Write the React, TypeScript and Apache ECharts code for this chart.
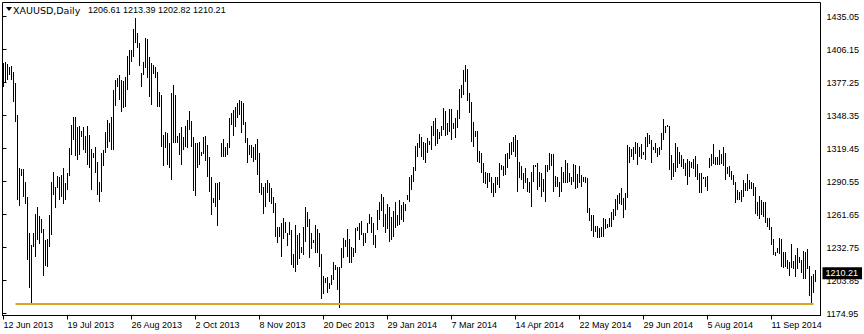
import React, { useEffect, useRef } from 'react';
import * as echarts from 'echarts';

const symbolTitle = 'XAUUSD,Daily';
const lastOHLC = [1206.61, 1213.39, 1202.82, 1210.21];
const xTickLabels = ['12 Jun 2013', '19 Jul 2013', '26 Aug 2013', '2 Oct 2013', '8 Nov 2013', '20 Dec 2013', '29 Jan 2014', '7 Mar 2014', '14 Apr 2014', '22 May 2014', '29 Jun 2014', '5 Aug 2014', '11 Sep 2014'];
const yTickLabels = ['1174.95', '1203.85', '1232.75', '1261.65', '1290.55', '1319.45', '1348.35', '1377.25', '1406.15', '1435.05'];
const supportLevel = 1183.3;

const highs = [
  1394.3, 1395.2, 1393.5, 1390.8, 1391.7, 1386.4, 1376.8, 1348.8, 1302.4, 1301.5,
  1301.5, 1290.1, 1277.0, 1245.4, 1234.9, 1245.4, 1262.1, 1268.2, 1260.3, 1257.7,
  1248.9, 1239.3, 1240.2, 1261.2, 1290.1, 1298.9, 1285.7, 1295.4, 1294.5, 1296.3,
  1302.4, 1289.2, 1298.0, 1319.9, 1340.0, 1347.0, 1347.0, 1338.3, 1339.2, 1334.8,
  1338.3, 1330.4, 1339.2, 1331.3, 1319.0, 1315.5, 1320.8, 1307.6, 1290.1, 1315.5,
  1318.1, 1333.9, 1344.4, 1341.8, 1347.0, 1370.7, 1379.4, 1381.2, 1383.8, 1379.4,
  1378.6, 1382.1, 1400.5, 1405.7, 1405.7, 1424.1, 1433.7, 1420.6, 1411.8, 1385.6,
  1395.2, 1416.2, 1415.3, 1399.6, 1394.3, 1392.6, 1390.8, 1386.4, 1368.9, 1366.3,
  1331.3, 1333.9, 1333.0, 1324.3, 1368.1, 1375.1, 1366.3, 1330.4, 1333.0, 1338.3,
  1329.5, 1339.2, 1344.4, 1352.3, 1343.5, 1329.5, 1324.3, 1324.3, 1325.1, 1316.4,
  1329.5, 1330.4, 1322.5, 1312.0, 1294.5, 1276.1, 1289.2, 1289.2, 1290.1, 1324.3,
  1327.8, 1320.8, 1324.3, 1346.2, 1350.5, 1353.2, 1355.8, 1359.3, 1361.9, 1361.0,
  1359.3, 1342.7, 1328.6, 1322.5, 1322.5, 1320.8, 1323.4, 1327.8, 1315.5, 1289.2,
  1285.7, 1289.2, 1291.9, 1289.2, 1284.9, 1277.0, 1271.7, 1250.7, 1250.7, 1254.2,
  1258.6, 1255.1, 1245.4, 1255.1, 1248.1, 1227.1, 1252.5, 1243.7, 1245.4, 1233.2,
  1250.7, 1268.2, 1263.8, 1257.7, 1245.4, 1239.3, 1252.5, 1248.9, 1245.4, 1227.1,
  1207.8, 1206.0, 1206.9, 1201.7, 1208.7, 1220.1, 1217.4, 1215.7, 1215.7, 1232.3,
  1241.1, 1239.3, 1248.9, 1240.2, 1233.2, 1232.3, 1249.8, 1250.7, 1254.2, 1256.0,
  1245.4, 1245.4, 1254.2, 1262.1, 1259.5, 1254.2, 1243.7, 1265.6, 1272.6, 1279.6,
  1277.0, 1262.1, 1270.8, 1268.2, 1259.5, 1264.7, 1272.6, 1261.2, 1274.3, 1270.0,
  1272.6, 1270.8, 1278.7, 1294.5, 1296.3, 1303.3, 1321.6, 1324.3, 1332.1, 1329.5,
  1325.1, 1324.3, 1328.6, 1326.0, 1339.2, 1343.5, 1346.2, 1336.5, 1333.9, 1339.2,
  1354.9, 1352.3, 1341.8, 1354.0, 1354.0, 1341.8, 1346.2, 1353.2, 1371.6, 1375.1,
  1388.2, 1392.6, 1389.1, 1368.1, 1360.2, 1342.7, 1334.8, 1334.8, 1317.3, 1315.5,
  1306.8, 1298.9, 1298.0, 1298.0, 1294.5, 1289.2, 1294.5, 1294.5, 1306.8, 1305.0,
  1304.1, 1314.6, 1315.5, 1324.3, 1325.1, 1329.5, 1331.3, 1326.9, 1307.6, 1304.1,
  1298.0, 1302.4, 1293.6, 1290.1, 1298.9, 1305.0, 1305.0, 1306.8, 1298.9, 1298.0,
  1292.7, 1305.0, 1305.0, 1315.5, 1314.6, 1314.6, 1295.4, 1294.5, 1290.1, 1303.3,
  1298.9, 1309.4, 1306.8, 1298.0, 1294.5, 1305.9, 1305.0, 1297.1, 1304.1, 1296.3,
  1294.5, 1294.5, 1293.6, 1267.3, 1261.2, 1261.2, 1251.6, 1251.6, 1249.8, 1250.7,
  1258.6, 1257.7, 1253.3, 1258.6, 1263.8, 1266.5, 1275.2, 1278.7, 1280.5, 1284.9,
  1276.1, 1280.5, 1322.5, 1320.8, 1319.0, 1320.8, 1325.1, 1324.3, 1320.8, 1323.4,
  1316.4, 1329.5, 1333.0, 1331.3, 1326.9, 1320.8, 1324.3, 1319.9, 1320.8, 1333.0,
  1345.3, 1339.2, 1340.0, 1339.2, 1313.8, 1306.8, 1324.3, 1320.8, 1316.4, 1313.8,
  1310.3, 1306.8, 1310.3, 1308.5, 1307.6, 1310.3, 1312.9, 1305.9, 1298.0, 1298.0,
  1294.5, 1294.5, 1295.4, 1311.1, 1314.6, 1323.4, 1312.0, 1312.0, 1318.1, 1314.6,
  1320.8, 1315.5, 1303.3, 1304.1, 1299.8, 1296.3, 1290.1, 1283.1, 1281.4, 1283.1,
  1291.9, 1289.2, 1297.1, 1291.9, 1290.1, 1289.2, 1285.7, 1272.6, 1277.9, 1274.3,
  1272.6, 1272.6, 1258.6, 1258.6, 1250.7, 1240.2, 1228.8, 1232.3, 1241.1, 1240.2,
  1228.8, 1228.8, 1221.8, 1220.1, 1235.8, 1220.9, 1226.2, 1232.3, 1224.4, 1221.8,
  1229.7, 1228.8, 1231.4, 1216.6, 1207.8, 1209.5, 1213.39,
];

const lows = [
  1373.3, 1377.7, 1379.4, 1383.8, 1379.4, 1360.2, 1342.7, 1274.3, 1269.1, 1295.4,
  1277.0, 1270.8, 1221.8, 1197.3, 1183.3, 1233.2, 1224.4, 1239.3, 1235.8, 1245.4,
  1207.8, 1216.6, 1215.7, 1233.2, 1243.7, 1278.7, 1267.3, 1284.9, 1274.3, 1277.0,
  1270.8, 1274.3, 1283.1, 1295.4, 1313.8, 1326.9, 1312.9, 1309.4, 1313.8, 1329.5,
  1318.1, 1315.5, 1305.0, 1302.4, 1283.1, 1311.1, 1298.0, 1278.7, 1272.6, 1281.4,
  1304.1, 1315.5, 1319.9, 1325.1, 1318.1, 1318.1, 1356.7, 1373.3, 1361.9, 1351.4,
  1354.9, 1355.8, 1370.7, 1383.8, 1395.2, 1399.6, 1411.8, 1407.5, 1391.7, 1373.3,
  1383.8, 1390.0, 1381.2, 1364.6, 1357.5, 1384.7, 1381.2, 1355.8, 1355.8, 1320.8,
  1304.1, 1319.9, 1305.0, 1302.4, 1291.9, 1324.3, 1324.3, 1324.3, 1313.8, 1305.0,
  1318.1, 1320.8, 1319.9, 1335.7, 1320.8, 1282.2, 1277.9, 1302.4, 1305.0, 1312.9,
  1314.6, 1308.5, 1294.5, 1281.4, 1261.2, 1271.7, 1268.2, 1251.6, 1274.3, 1312.0,
  1312.0, 1312.0, 1313.8, 1319.9, 1340.0, 1330.4, 1338.3, 1346.2, 1348.8, 1333.0,
  1340.0, 1324.3, 1306.8, 1313.8, 1311.1, 1307.6, 1309.4, 1296.3, 1280.5, 1278.7,
  1262.1, 1268.2, 1280.5, 1272.6, 1270.8, 1263.0, 1241.9, 1236.7, 1241.9, 1224.4,
  1240.2, 1245.4, 1234.1, 1243.7, 1217.4, 1214.8, 1211.3, 1217.4, 1222.7, 1227.9,
  1226.2, 1237.6, 1250.7, 1223.6, 1231.4, 1236.7, 1227.9, 1227.9, 1215.7, 1187.7,
  1192.0, 1201.7, 1192.9, 1196.4, 1199.9, 1204.3, 1213.0, 1195.5, 1179.8, 1214.8,
  1223.6, 1233.2, 1224.4, 1219.2, 1219.2, 1224.4, 1227.9, 1247.2, 1239.3, 1243.7,
  1234.1, 1236.7, 1245.4, 1253.3, 1245.4, 1234.9, 1232.3, 1248.1, 1256.8, 1264.7,
  1250.7, 1245.4, 1248.9, 1237.6, 1239.3, 1241.9, 1249.8, 1251.6, 1252.5, 1256.8,
  1255.1, 1264.7, 1274.3, 1272.6, 1283.1, 1290.1, 1299.8, 1312.0, 1319.9, 1312.0,
  1309.4, 1306.8, 1315.5, 1322.5, 1318.1, 1330.4, 1321.6, 1323.4, 1327.8, 1330.4,
  1335.7, 1330.4, 1331.3, 1333.9, 1326.9, 1336.5, 1328.6, 1337.4, 1345.3, 1363.7,
  1366.3, 1377.7, 1361.0, 1350.5, 1325.1, 1320.8, 1329.5, 1307.6, 1306.8, 1298.0,
  1289.2, 1288.4, 1284.9, 1290.1, 1280.5, 1277.0, 1280.5, 1287.5, 1284.9, 1300.6,
  1295.4, 1296.3, 1302.4, 1310.3, 1313.8, 1316.4, 1312.0, 1281.4, 1293.6, 1291.9,
  1284.0, 1289.2, 1281.4, 1280.5, 1268.2, 1290.1, 1303.3, 1283.1, 1285.7, 1277.0,
  1281.4, 1272.6, 1298.9, 1300.6, 1304.1, 1281.4, 1285.7, 1285.7, 1277.0, 1281.4,
  1289.2, 1289.2, 1289.2, 1290.1, 1287.5, 1290.1, 1284.0, 1284.9, 1289.2, 1285.7,
  1290.1, 1289.2, 1263.0, 1256.0, 1247.2, 1241.9, 1246.3, 1241.1, 1241.1, 1241.9,
  1241.9, 1248.9, 1249.8, 1250.7, 1250.7, 1256.8, 1260.3, 1265.6, 1270.8, 1270.0,
  1258.6, 1265.6, 1276.1, 1306.8, 1312.0, 1309.4, 1314.6, 1305.0, 1312.0, 1310.3,
  1313.8, 1309.4, 1320.8, 1323.4, 1306.8, 1318.1, 1315.5, 1312.0, 1313.8, 1318.1,
  1326.9, 1333.0, 1338.3, 1300.6, 1291.9, 1294.5, 1298.9, 1302.4, 1305.9, 1303.3,
  1301.5, 1295.4, 1287.5, 1294.5, 1302.4, 1301.5, 1294.5, 1291.9, 1280.5, 1280.5,
  1293.6, 1285.7, 1282.2, 1302.4, 1304.1, 1305.9, 1305.0, 1305.0, 1305.0, 1305.9,
  1304.1, 1291.9, 1297.1, 1294.5, 1291.9, 1287.5, 1271.7, 1274.3, 1274.3, 1272.6,
  1277.0, 1282.2, 1282.2, 1284.0, 1284.0, 1277.9, 1262.1, 1260.3, 1257.7, 1261.2,
  1259.5, 1254.2, 1250.7, 1248.1, 1234.9, 1226.2, 1225.3, 1227.9, 1227.1, 1215.7,
  1214.8, 1215.7, 1213.9, 1207.8, 1214.8, 1213.9, 1206.9, 1213.9, 1219.2, 1210.4,
  1205.2, 1205.2, 1213.9, 1190.3, 1183.3, 1192.9, 1202.82,
];

export default function App() {
  const ref = useRef<HTMLDivElement>(null);

  useEffect(() => {
    if (!ref.current) return;
    const chart = echarts.init(ref.current, null, { renderer: 'svg' });
    const padBars = 2;
    const n = highs.length + padBars;
    const categories = Array.from({ length: n }, (_, i) =>
      i % 32 === 0 && i / 32 < xTickLabels.length ? xTickLabels[i / 32] : 'bar' + i
    );
    const bars = highs.map((h, i) => [i, h, lows[i]]);
    const font = '"Liberation Sans", Arial, sans-serif';

    chart.setOption({
      animation: false,
      backgroundColor: '#ffffff',
      grid: [
        { left: 2.5, top: 2.5, width: 818, height: 313, show: true, borderColor: '#000', borderWidth: 1, backgroundColor: 'transparent' },
        { left: 2.5, top: 16.5, width: 818, height: 297, show: false },
      ],
      xAxis: [
        {
          type: 'category',
          gridIndex: 0,
          data: categories,
          boundaryGap: true,
          axisLine: { show: true, lineStyle: { color: '#000', width: 1 } },
          axisTick: { show: true, interval: 31, alignWithLabel: true, length: 4, lineStyle: { color: '#000' } },
          axisLabel: {
            interval: 31,
            align: 'left',
            margin: 5,
            color: '#000',
            fontSize: 9,
            fontFamily: font,
            formatter: (v: string) => (xTickLabels.indexOf(v) >= 0 ? v : ''),
          },
          splitLine: { show: false },
        },
        { type: 'value', gridIndex: 1, show: false, min: 0, max: 1 },
      ],
      yAxis: [
        { type: 'value', gridIndex: 0, min: 1173.2, max: 1447.31, show: false, splitLine: { show: false } },
        {
          type: 'value',
          gridIndex: 1,
          min: 0,
          max: yTickLabels.length - 1,
          interval: 1,
          position: 'right',
          axisLine: { show: false },
          axisTick: { show: true, length: 4, lineStyle: { color: '#000' } },
          axisLabel: {
            margin: 6,
            color: '#000',
            fontSize: 9,
            fontFamily: font,
            formatter: (v: number) => yTickLabels[Math.round(v)] ?? '',
          },
          splitLine: { show: false },
        },
      ],
      graphic: [
        { type: 'polygon', shape: { points: [[6, 7], [12, 7], [9, 11]] }, style: { fill: '#000' } },
        { type: 'text', x: 13, y: 10, style: { text: symbolTitle, font: '9.5px "DejaVu Sans", sans-serif', fill: '#000', verticalAlign: 'middle' } },
        { type: 'text', x: 88, y: 10, style: { text: lastOHLC.map((v) => v.toFixed(2)).join(' '), font: '9px "Liberation Sans", Arial, sans-serif', fill: '#000', verticalAlign: 'middle' } },
      ],
      series: [
        {
          type: 'custom',
          xAxisIndex: 0,
          yAxisIndex: 0,
          data: bars,
          encode: { x: 0, y: [1, 2] },
          renderItem: (params: any, api: any) => {
            const i = api.value(0);
            const top = api.coord([i, api.value(1)]);
            const bot = api.coord([i, api.value(2)]);
            const x = Math.floor(top[0]) + 0.5;
            const y1 = Math.round(top[1]);
            let y2 = Math.round(bot[1]);
            if (y2 - y1 < 2) y2 = y1 + 2;
            return {
              type: 'line',
              shape: { x1: x, y1, x2: x, y2 },
              style: { stroke: '#000', lineWidth: 1 },
            };
          },
          markLine: {
            silent: true,
            symbol: ['none', 'none'],
            animation: false,
            z: 10,
            data: [
              [
                { coord: [6, supportLevel], lineStyle: { color: '#DAA520', width: 2, type: 'solid' }, label: { show: false } },
                { coord: [highs.length - 2, supportLevel] },
              ],
              {
                yAxis: lastOHLC[3],
                lineStyle: { color: 'rgba(0,0,0,0)', width: 1, opacity: 1 },
                label: {
                  show: true,
                  position: 'end',
                  distance: 2,
                  formatter: lastOHLC[3].toFixed(2),
                  color: '#ffffff',
                  opacity: 1,
                  backgroundColor: '#000000',
                  padding: [2, 4, 1, 3],
                  fontSize: 9,
                  fontFamily: font,
                },
              },
            ],
          },
        },
      ],
    });

    return () => chart.dispose();
  }, []);

  return (
    <div
      ref={ref}
      style={{ position: 'fixed', left: 0, top: 0, width: 864, height: 334, background: '#fff' }}
    />
  );
}
